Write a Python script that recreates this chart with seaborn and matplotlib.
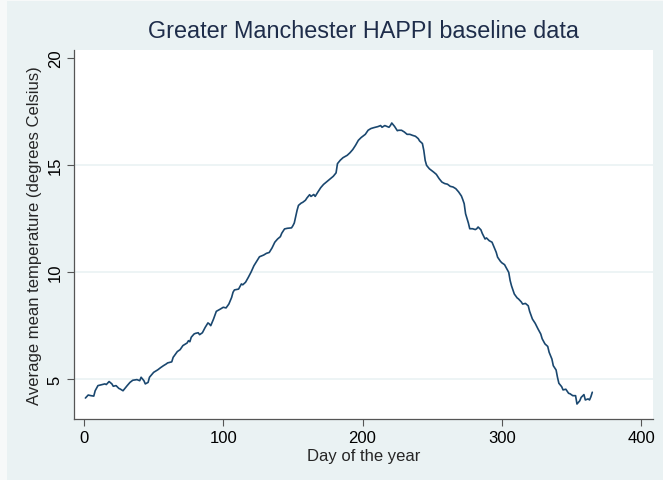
import seaborn as sns
import matplotlib.pyplot as plt
from matplotlib.patches import Rectangle
import pandas as pd

# values (day of year, mean temperature)
days = [1, 3, 5, 7, 8, 10, 13, 15, 16, 18, 20, 21, 23, 25, 26, 28, 31, 33, 35, 38,
        40, 41, 43, 44, 46, 47, 50, 53, 55, 57, 59, 60, 62, 63, 64, 67, 69, 71, 74, 75,
        76, 77, 79, 80, 82, 83, 85, 87, 89, 90, 91, 93, 95, 98, 100, 102, 104, 106, 107, 108,
        111, 113, 114, 116, 118, 120, 122, 125, 126, 129, 131, 133, 135, 137, 139, 141, 142, 144, 146, 149,
        150, 151, 153, 154, 156, 157, 159, 160, 162, 163, 165, 166, 168, 170, 172, 174, 177, 179, 181, 182,
        184, 186, 189, 191, 193, 195, 197, 199, 202, 204, 206, 208, 211, 213, 214, 216, 219, 220, 221, 223,
        225, 226, 228, 230, 232, 234, 236, 238, 240, 241, 243, 244, 245, 246, 248, 251, 253, 255, 257, 259,
        261, 263, 265, 267, 269, 271, 272, 273, 274, 276, 277, 279, 281, 282, 283, 285, 286, 288, 289, 291,
        293, 294, 296, 297, 299, 300, 302, 303, 305, 306, 307, 309, 311, 312, 314, 315, 317, 319, 320, 322,
        324, 326, 328, 329, 331, 333, 334, 336, 337, 339, 340, 341, 343, 344, 346, 348, 349, 351, 353, 354,
        356, 357, 359, 360, 362, 363, 364, 365]
temps = [4.11, 4.25, 4.22, 4.20, 4.45, 4.69, 4.74, 4.77, 4.74, 4.88, 4.77, 4.66, 4.69, 4.56, 4.53, 4.45, 4.69, 4.84, 4.94, 4.97,
         4.92, 5.08, 4.92, 4.77, 4.84, 5.08, 5.31, 5.43, 5.53, 5.62, 5.70, 5.75, 5.78, 5.80, 6.01, 6.28, 6.37, 6.56, 6.68, 6.79,
         6.74, 6.95, 7.10, 7.13, 7.16, 7.07, 7.16, 7.41, 7.62, 7.57, 7.49, 7.80, 8.16, 8.27, 8.35, 8.32, 8.50, 8.81, 9.05, 9.16,
         9.20, 9.44, 9.40, 9.52, 9.75, 10.00, 10.29, 10.60, 10.71, 10.79, 10.87, 10.91, 11.12, 11.39, 11.54, 11.65, 11.81, 12.01, 12.04, 12.06,
         12.16, 12.29, 12.88, 13.11, 13.22, 13.25, 13.35, 13.45, 13.61, 13.53, 13.62, 13.53, 13.74, 13.94, 14.09, 14.20, 14.36, 14.47, 14.63, 15.06,
         15.22, 15.34, 15.45, 15.57, 15.72, 15.92, 16.15, 16.28, 16.43, 16.62, 16.70, 16.74, 16.79, 16.84, 16.76, 16.84, 16.76, 16.84, 16.96, 16.80,
         16.60, 16.62, 16.62, 16.54, 16.43, 16.43, 16.38, 16.34, 16.23, 16.12, 16.00, 15.68, 15.21, 14.98, 14.82, 14.67, 14.56, 14.36, 14.20, 14.13,
         14.10, 14.00, 13.97, 13.89, 13.74, 13.55, 13.38, 13.19, 12.72, 12.29, 12.02, 12.02, 11.98, 12.02, 12.10, 11.97, 11.80, 11.54, 11.59, 11.46,
         11.39, 11.23, 10.92, 10.69, 10.50, 10.43, 10.34, 10.22, 9.98, 9.60, 9.35, 8.97, 8.79, 8.74, 8.60, 8.50, 8.53, 8.42, 8.16, 7.80,
         7.60, 7.34, 7.10, 6.88, 6.64, 6.52, 6.25, 5.93, 5.62, 5.42, 5.08, 4.80, 4.64, 4.49, 4.52, 4.33, 4.31, 4.22, 4.22, 3.83,
         3.98, 4.14, 4.27, 4.02, 4.07, 4.02, 4.17, 4.38]

x_ticks = [0, 100, 200, 300, 400]
y_ticks = [5, 10, 15, 20]
grid_levels = [5, 10, 15]

df = pd.DataFrame({"day": days, "temp": temps})

sns.set_style("white")
plt.rcParams['font.family'] = ['Liberation Sans', 'DejaVu Sans']

bg = "#eaf2f3"
fig = plt.figure(figsize=(6.63, 4.81), dpi=100, facecolor="#f7f9f9")
# graph region (leaves a thin lighter strip on the left/top like the screenshot)
fig.add_artist(Rectangle((7 / 663, 0), 1, 1 - 2 / 481, transform=fig.transFigure,
                         facecolor=bg, edgecolor="none", zorder=-10))
ax = fig.add_axes([74 / 663, 61 / 481, 579 / 663, 369 / 481])
ax.set_zorder(1)
ax.set_facecolor("white")

for g in grid_levels:
    ax.axhline(g, color=bg, lw=1.2, zorder=1)

sns.lineplot(data=df, x="day", y="temp", ax=ax, color="#1a476f", lw=1.2, zorder=3)

ax.set_xlim(-7.2, 408.6)
ax.set_ylim(3.13, 20.37)
ax.set_xticks(x_ticks)
ax.set_yticks(y_ticks)
ax.set_yticklabels([str(t) for t in y_ticks], rotation=90, va="center")
ax.tick_params(axis="both", direction="out", length=5, width=0.8, color="#555555",
               labelsize=12, labelcolor="black", pad=3, left=True, bottom=True)

for s in ["top", "right"]:
    ax.spines[s].set_visible(False)
for s in ["left", "bottom"]:
    ax.spines[s].set_color("#555555")
    ax.spines[s].set_linewidth(0.9)

ax.set_xlabel("Day of the year", fontsize=12, labelpad=2)
ax.set_ylabel("Average mean temperature (degrees Celsius)", fontsize=12, labelpad=4)
ax.set_title("Greater Manchester HAPPI baseline data", fontsize=16.8, color="#1e2d4a", pad=9)

fig.savefig("out.png", dpi=100, facecolor=fig.get_facecolor())
